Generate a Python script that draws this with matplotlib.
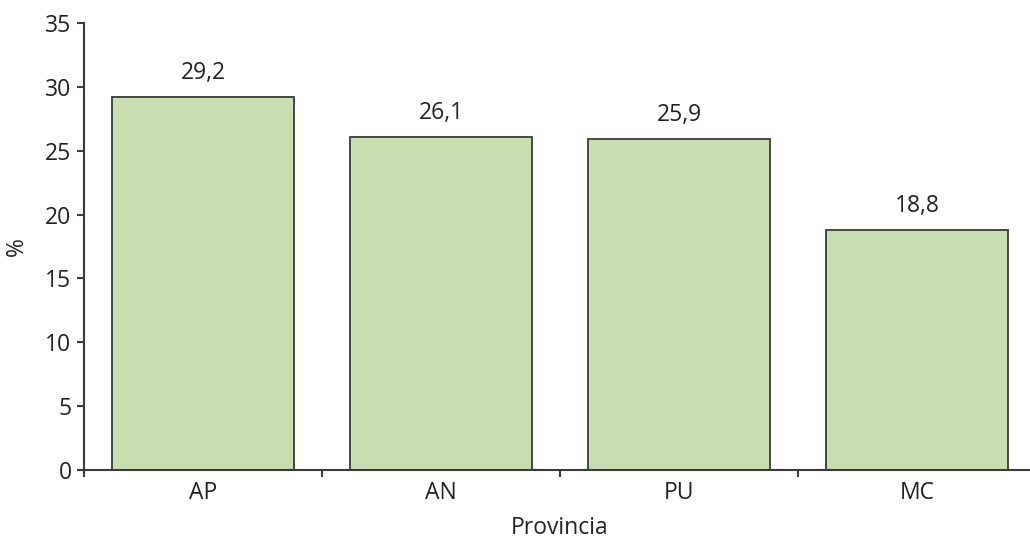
import matplotlib
matplotlib.use("Agg")
import matplotlib.pyplot as plt

categories = ["AP", "AN", "PU", "MC"]
values = [29.2, 26.1, 25.9, 18.8]
labels = ["29,2", "26,1", "25,9", "18,8"]
yticks = [0, 5, 10, 15, 20, 25, 30, 35]

plt.rcParams['font.family'] = ['Open Sans', 'DejaVu Sans']

fig = plt.figure(figsize=(10.30, 5.39), dpi=100)
ax = fig.add_axes([84/1030, 1 - 470/539, (1036-84)/1030, (470-23)/539])

x = list(range(len(categories)))
ax.bar(x, values, width=0.765, color="#c9dfb1", edgecolor="#3a3a3a", linewidth=1.3)
for xi, v, lab in zip(x, values, labels):
    ax.text(xi, v + 0.95, lab, ha="center", va="bottom", fontsize=16.5, color="#222222")

ax.set_xlim(-0.5, 3.5)
ax.set_ylim(0, 35)
ax.set_yticks(yticks)
ax.set_yticklabels([str(t) for t in yticks], fontsize=16.5, color="#222222")
ax.set_xticks(x)
ax.set_xticklabels(categories, fontsize=16.5, color="#222222")
ax.tick_params(axis='x', length=0, pad=8)
ax.set_xticks([i + 0.5 for i in range(len(categories) - 1)] + [-0.5], minor=True)
ax.tick_params(axis='x', which='minor', length=5, direction='out', color="#3a3a3a", width=1.5)
ax.tick_params(axis='y', length=5, direction='out', color="#3a3a3a", width=1.5, pad=4)

for s in ["top", "right"]:
    ax.spines[s].set_visible(False)
for s in ["left", "bottom"]:
    ax.spines[s].set_color("#3a3a3a")
    ax.spines[s].set_linewidth(1.5)

ax.set_ylabel("%", fontsize=16.5, color="#222222", labelpad=12)
ax.set_xlabel("Provincia", fontsize=16.5, color="#222222", labelpad=8)

fig.savefig("out.png", dpi=100)
